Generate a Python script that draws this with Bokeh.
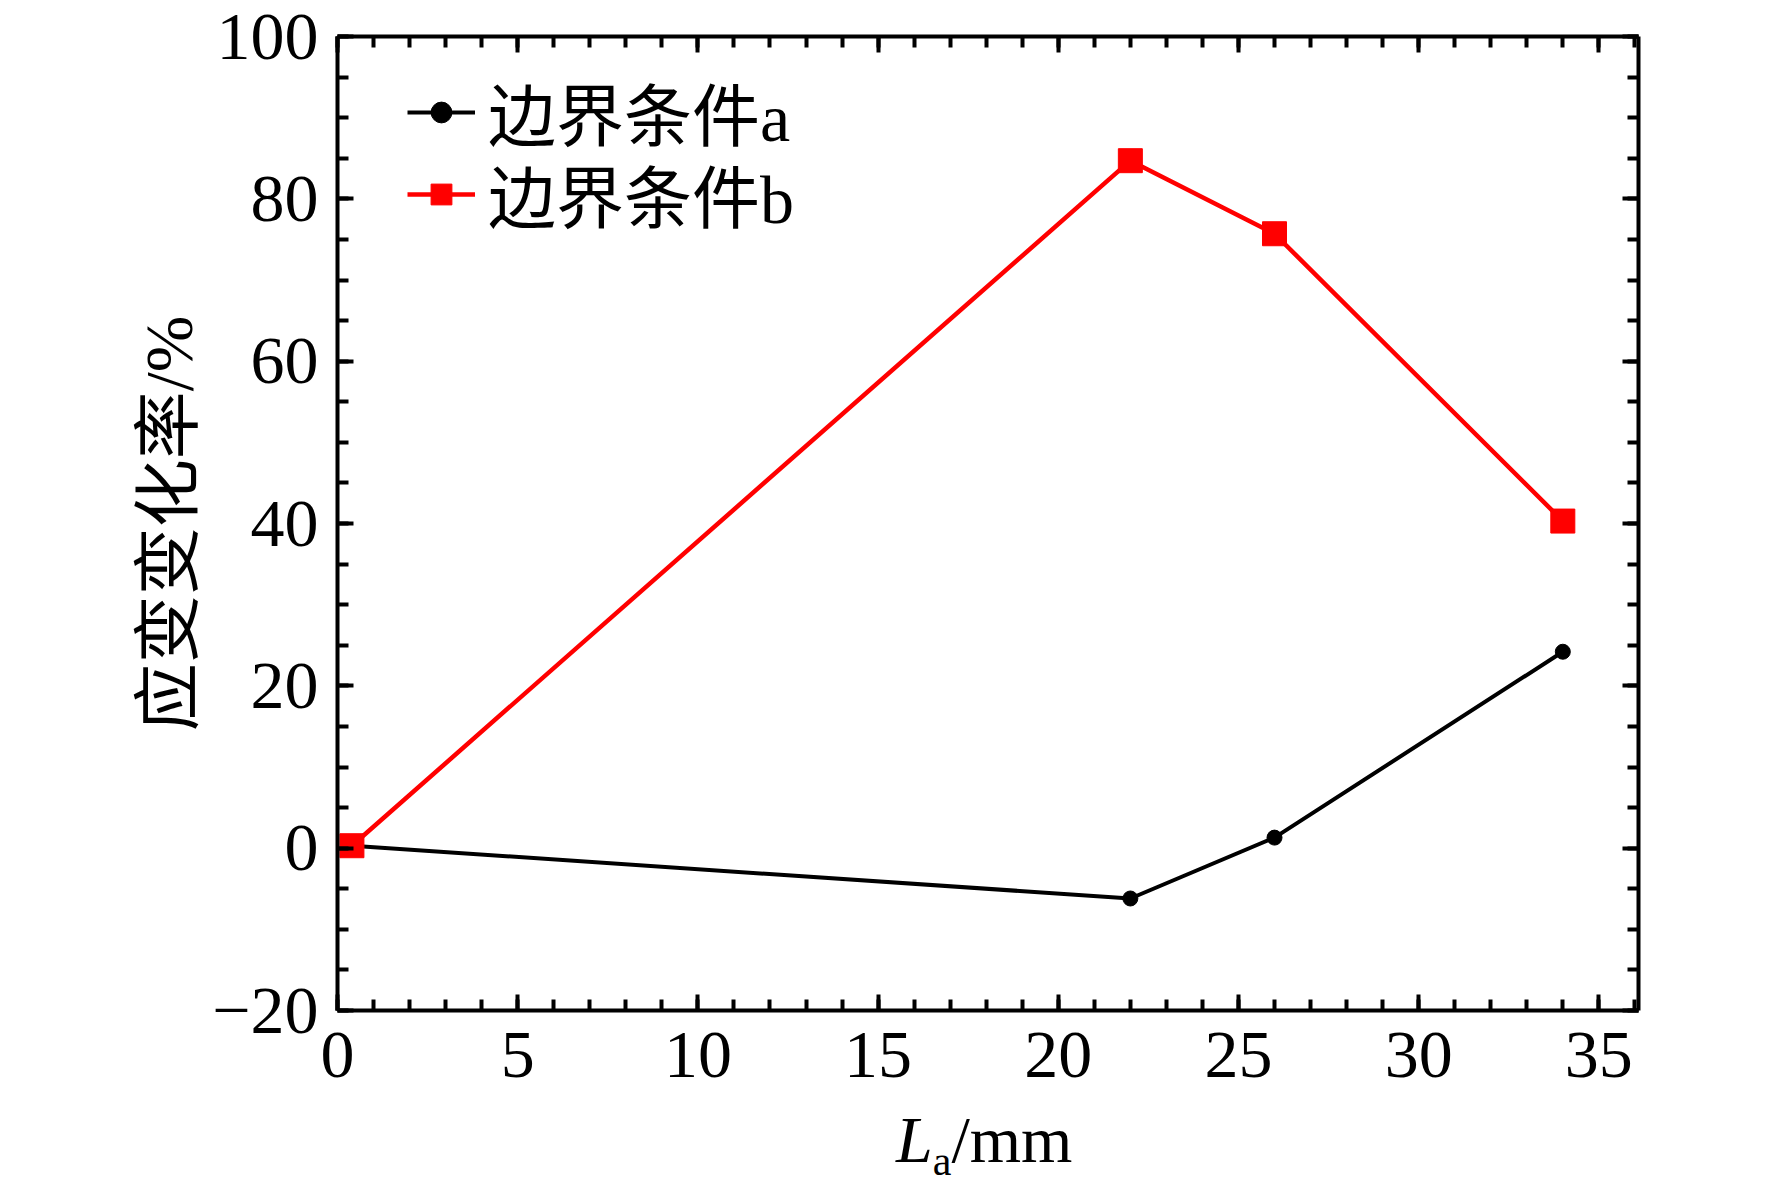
from bokeh.plotting import figure
from bokeh.layouts import column
from bokeh.models import (Range1d, LinearAxis, FixedTicker, Legend, LegendItem,
                          CustomJSTickFormatter, Div)
from bokeh.embed import file_html
from bokeh.resources import INLINE

# ---- data ----
la_a = [0.4, 22, 26, 34]
rate_a = [0.3, -6.2, 1.3, 24.2]
la_b = [0.4, 22, 26, 34]
rate_b = [0.3, 84.7, 75.7, 40.3]

x_major = [0, 5, 10, 15, 20, 25, 30, 35]
x_minor = list(range(0, 37))
y_major = [-20, 0, 20, 40, 60, 80, 100]
y_minor = list(range(-20, 101, 5))
y_tick_text = {-20: "\u221220", 0: "0", 20: "20", 40: "40", 60: "60", 80: "80", 100: "100"}

legend_labels = ["边界条件a", "边界条件b"]
y_label = "应变变化率/%"
x_label_parts = ["L", "a", "/mm"]

SERIF = "Liberation Serif"
MIXED = "Liberation Serif, Noto Sans CJK SC"

W, HF = 1772, 1115
p = figure(width=W, height=HF, output_backend="svg", toolbar_location=None,
           x_range=Range1d(0, 36.1), y_range=Range1d(-20, 100),
           x_axis_location=None, y_axis_location=None,
           min_border_left=337, min_border_right=W - 1638,
           min_border_top=36, min_border_bottom=HF - 1010)
p.outline_line_color = None
p.grid.visible = False
p.background_fill_color = "white"
p.border_fill_color = "white"


def make_axis(major, minor, show):
    ax = LinearAxis(ticker=FixedTicker(ticks=major, minor_ticks=minor))
    ax.axis_line_width = 4
    ax.axis_line_color = "black"
    ax.major_tick_in = 16
    ax.major_tick_out = 0
    ax.major_tick_line_width = 4
    ax.minor_tick_in = 11
    ax.minor_tick_out = 0
    ax.minor_tick_line_width = 4
    ax.major_label_text_font = SERIF
    ax.major_label_text_color = "black"
    if show:
        ax.major_label_text_font_size = "68px"
    else:
        ax.formatter = CustomJSTickFormatter(code="return ''")
        ax.major_label_text_font_size = "1px"
        ax.major_label_standoff = 0
    return ax


ax_bottom = make_axis(x_major, x_minor, True)
ax_bottom.major_label_standoff = 22
ax_top = make_axis(x_major, x_minor, False)
ax_left = make_axis(y_major, y_minor, True)
ax_left.major_label_overrides = y_tick_text
ax_left.major_label_standoff = 19
ax_left.axis_label = y_label
ax_left.axis_label_text_font = MIXED
ax_left.axis_label_text_font_style = "normal"
ax_left.axis_label_text_font_size = "68px"
ax_left.axis_label_text_color = "black"
ax_left.axis_label_standoff = 2
ax_right = make_axis(y_major, y_minor, False)

p.add_layout(ax_bottom, "below")
p.add_layout(ax_top, "above")
p.add_layout(ax_left, "left")
p.add_layout(ax_right, "right")

# ---- series ----
la_line = p.line(la_a, rate_a, line_color="black", line_width=4)
la_pts = p.scatter(la_a, rate_a, marker="circle", size=15,
                   fill_color="black", line_color="black")
lb_line = p.line(la_b, rate_b, line_color="#ff0000", line_width=4.5)
lb_pts = p.scatter(la_b, rate_b, marker="square", size=24,
                   fill_color="#ff0000", line_color="#ff0000")


def make_legend(label, rends, loc):
    return Legend(items=[LegendItem(label=label, renderers=rends)],
                  location=loc, orientation="vertical",
                  glyph_width=68, glyph_height=52, spacing=0,
                  label_standoff=13, padding=0, margin=0,
                  border_line_color=None, background_fill_alpha=0,
                  label_text_font=MIXED, label_text_font_size="68px",
                  label_text_color="black")


p.add_layout(make_legend(legend_labels[0], [la_line, la_pts], (70, 849)))
p.add_layout(make_legend(legend_labels[1], [lb_line, lb_pts], (70, 767)))

# ---- x axis title: italic L, subscript a, /mm ----
xt = Div(
    text=('<div style="margin-left:891px; font-family:\'Liberation Serif\', serif; '
          'font-size:66px; line-height:40px; color:black; white-space:nowrap;">'
          '<span style="font-style:italic;">' + x_label_parts[0] + '</span>'
          '<span style="font-size:42px; vertical-align:-13px;">' + x_label_parts[1] + '</span>'
          + x_label_parts[2] + '</div>'),
    width=W, height=75)

layout = column(p, xt, spacing=0)
open("out.html", "w").write(file_html(layout, INLINE))
